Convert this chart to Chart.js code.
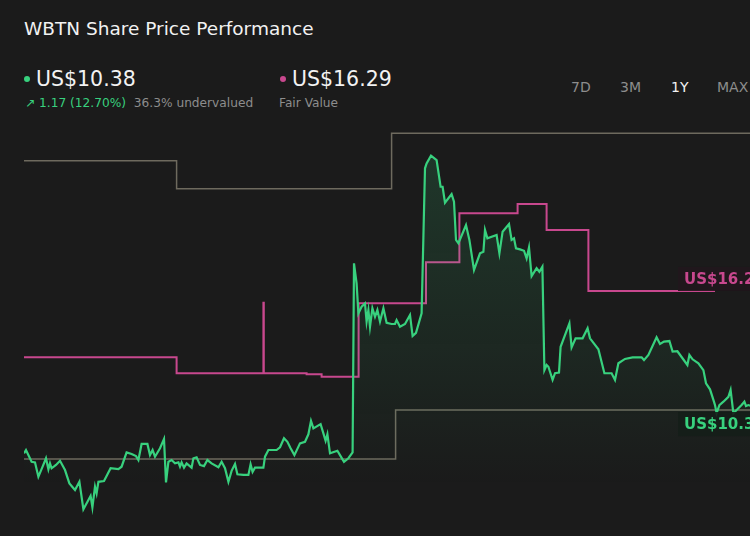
<!DOCTYPE html>
<html>
<head>
<meta charset="utf-8">
<script src="https://cdn.jsdelivr.net/npm/chart.js@4.4.1/dist/chart.umd.min.js"></script>
<style>
    html, body { margin: 0; padding: 0; background: #1b1b1b; }
    body { width: 750px; height: 536px; overflow: hidden; position: relative; font-family: 'DejaVu Sans', sans-serif; }
    .abs { position: absolute; white-space: nowrap; }
    #title { left: 24px; top: 18px; font-size: 18.5px; color: #f2f2f2; }
    .big { top: 67px; font-size: 20.5px; color: #f2f2f2; }
    .dot { position: absolute; width: 6px; height: 6px; border-radius: 3px; top: 76px; }
    .sub { top: 96px; font-size: 12.2px; color: #8d8d8d; }
    .tf { top: 79px; font-size: 14px; color: #8d8d8d; }
    #chartBox { position: absolute; left: 24px; top: 120px; width: 730px; height: 416px; }
</style>
</head>
<body>
<div id="title" class="abs">WBTN Share Price Performance</div>

<div class="dot" style="left:24px;background:#38d17e"></div>
<div class="abs big" style="left:36px">US$10.38</div>
<div class="abs sub" style="left:25px"><span style="color:#38d17e">&#8599; 1.17 (12.70%)</span>&nbsp; 36.3% undervalued</div>

<div class="dot" style="left:280px;background:#c8488e"></div>
<div class="abs big" style="left:292px">US$16.29</div>
<div class="abs sub" style="left:279px">Fair Value</div>

<div class="abs tf" style="left:571px">7D</div>
<div class="abs tf" style="left:620px">3M</div>
<div class="abs tf" style="left:671px;color:#f2f2f2">1Y</div>
<div class="abs tf" style="left:717px">MAX</div>

<div id="chartBox"><canvas id="chart" width="730" height="416"></canvas></div>

<script>
// share price, x = day of the 1Y window
const priceDays = [
    0, 1, 2.6, 3.8, 5.5, 7.2, 9.3, 11, 12.2, 13, 13.8, 16, 18, 20.5, 22.7, 25.5, 27.7, 29.7, 32.2, 33.3,
    34.2, 35.5, 36.3, 37.2, 40, 41.3, 43.3, 47.2, 48.8, 51.3, 53.8, 56, 57.2, 58.8, 61.7, 63, 64.3, 65.5, 68, 70,
    71, 72.2, 73.8, 75.5, 77.2, 78, 78.8, 80, 81.3, 83.8, 84.7, 86.3, 88, 90, 91.7, 93.8, 97.2, 98.8, 100.5, 102.2,
    103.8, 105.5, 106.7, 109.7, 112.2, 113.3, 114.3, 115.5, 119.7, 120.5, 122.2, 126.3, 128, 130, 131.7, 133.3, 135.2, 138, 140.5, 142.2,
    143.5, 144.7, 148.3, 149.7, 150.8, 151.7, 153, 156.7, 158, 160, 162.2, 164.3, 165, 166.3, 167.2, 168.8, 170.5, 171.3, 172.2, 173,
    174.2, 175.5, 176.7, 178, 179.7, 181.3, 183.8, 185.5, 186.3, 188, 190.5, 193, 194.3, 196, 198.8, 200.5, 201.3, 203.5, 206.3, 208.3,
    209.3, 210.5, 213.8, 215, 216, 217.2, 221, 222.7, 225, 228, 229.7, 230.5, 231.7, 236.3, 237.7, 239.3, 242.5, 243.8, 245, 246,
    248, 250, 251.3, 252.5, 253.8, 256.3, 257.7, 259.2, 260.2, 261.3, 262.2, 264.3, 265.5, 267.5, 268.3, 272.7, 273.8, 275.8, 279.3, 281.8,
    283, 287.2, 290.2, 293.8, 295.5, 297.2, 300.5, 304.3, 308.8, 310, 312.2, 316.3, 318, 320, 322.7, 324.3, 326.7, 331.7, 332.7, 334.3,
    337.2, 339.7, 341, 343, 344.7, 345.5, 346.3, 347.7, 349.7, 352.2, 353.3, 354.7, 356.3, 358.8, 360.2, 361, 362.2, 365
];
const priceValues = [
    8.02, 8.19, 7.85, 7.59, 7.56, 6.83, 7.34, 7.77, 7.21, 7.51, 7.26, 7.43, 7.64, 7.17, 6.49, 6.15, 6.57, 5.17, 5.64, 5.85,
    5.27, 6.32, 5.98, 6.57, 6.61, 6.87, 7.26, 7.22, 7.34, 8.07, 7.99, 7.88, 7.68, 8.50, 8.50, 7.93, 8.19, 7.85, 8.28, 8.75,
    6.54, 7.59, 7.68, 7.51, 7.56, 7.34, 7.56, 7.29, 7.51, 7.29, 7.77, 7.82, 7.43, 7.37, 7.68, 7.51, 7.31, 7.59, 7.26, 6.57,
    7.13, 7.48, 6.95, 6.92, 6.92, 7.46, 7.08, 7.29, 7.29, 7.85, 8.19, 8.19, 8.33, 8.79, 8.61, 8.28, 7.93, 8.53, 8.61, 8.99,
    9.67, 9.29, 9.51, 9.04, 8.66, 8.99, 8.02, 8.15, 7.93, 7.59, 7.77, 8.07, 17.70, 16.68, 15.15, 15.49, 15.66, 14.73, 15.32, 14.47,
    15.41, 14.98, 15.32, 14.73, 15.41, 14.67, 14.61, 14.61, 14.81, 14.47, 14.61, 15.07, 14.00, 14.16, 15.15, 22.54, 22.79, 23.18, 22.96, 21.60,
    21.60, 20.79, 21.23, 20.84, 18.89, 18.72, 19.65, 18.89, 17.36, 18.21, 18.29, 19.40, 18.97, 19.14, 18.21, 19.31, 19.70, 18.89, 18.97, 18.46,
    18.41, 18.34, 17.95, 18.51, 17.05, 17.45, 17.27, 17.53, 12.26, 12.52, 12.43, 11.76, 12.10, 12.13, 13.45, 14.64, 13.42, 13.88, 13.88, 14.39,
    13.88, 13.32, 12.10, 12.10, 11.76, 12.61, 12.83, 12.91, 12.91, 12.77, 13.03, 13.93, 13.59, 13.71, 13.74, 13.20, 13.22, 12.52, 13.03, 12.81,
    12.61, 12.26, 11.59, 11.28, 10.74, 10.48, 10.07, 10.48, 10.65, 10.90, 11.25, 10.06, 10.23, 10.48, 10.65, 10.43, 10.48, 10.38
];

// fair value (step line)
const fairDays   = [0, 76.3, 119.7, 119.9, 141.3, 148.8, 167.3, 201, 217.7, 246.8, 261.3, 282.2, 345.5];
const fairValues = [12.91, 12.10, 15.69, 12.10, 12.05, 11.92, 15.66, 17.75, 20.25, 20.72, 19.40, 16.29, 16.29];

// grey band lines
const upperDays   = [0, 76.3, 183.8, 365];
const upperValues = [22.93, 21.50, 24.32, 24.32];
const lowerDays   = [0, 185.8, 365];
const lowerValues = [7.73, 10.23, 10.23];

const lastPrice = 10.38;
const fairValue = 16.29;

function toPoints(days, values) {
    return days.map((d, i) => ({ x: d, y: values[i] }));
}

function priceFill(context) {
    const chart = context.chart;
    const area  = chart.chartArea;
    if (!area) return 'rgba(56,209,126,0.08)';
    const g = chart.ctx.createLinearGradient(0, area.top, 0, area.bottom);
    g.addColorStop(0,    'rgba(56,209,126,0.17)');
    g.addColorStop(0.55, 'rgba(56,209,126,0.07)');
    g.addColorStop(0.88, 'rgba(56,209,126,0)');
    return g;
}

// price tags at the right edge
const tagPlugin = {
    id: 'tags',
    afterDatasetsDraw(chart) {
        const ctx = chart.ctx;
        const y   = chart.scales.y;
        const x0  = chart.chartArea.right - 70;
        const tags = [
            { text: 'US$' + fairValue.toFixed(2), color: '#c8488e', tint: 'rgba(200,72,142,0.07)', cy: y.getPixelForValue(fairValue) - 12 },
            { text: 'US$' + lastPrice.toFixed(2), color: '#38d17e', tint: 'rgba(56,209,126,0.06)', cy: y.getPixelForValue(lastPrice) + 17 }
        ];
        ctx.save();
        ctx.font = 'bold 15px "DejaVu Sans"';
        ctx.textBaseline = 'middle';
        tags.forEach(t => {
            ctx.fillStyle = 'rgba(20,20,20,0.9)';
            ctx.fillRect(x0 - 6, t.cy - 12, 90, 24);
            ctx.fillStyle = t.tint;
            ctx.fillRect(x0 - 6, t.cy - 12, 90, 24);
            ctx.fillStyle = t.color;
            ctx.fillText(t.text, x0, t.cy + 1);
        });
        ctx.restore();
    }
};

new Chart(document.getElementById('chart'), {
    type: 'line',
    data: {
        datasets: [
            {
                data: toPoints(priceDays, priceValues),
                borderColor: '#38d17e',
                borderWidth: 2.2,
                pointRadius: 0,
                tension: 0,
                fill: 'start',
                backgroundColor: priceFill,
                order: 1,
            },
            {
                data: toPoints(fairDays, fairValues),
                borderColor: '#c8488e',
                borderWidth: 2,
                pointRadius: 0,
                stepped: true,
                fill: false,
                order: 2,
            },
            {
                data: toPoints(upperDays, upperValues),
                borderColor: '#6e6a5e',
                borderWidth: 1.5,
                pointRadius: 0,
                stepped: true,
                fill: false,
                order: 3,
            },
            {
                data: toPoints(lowerDays, lowerValues),
                borderColor: '#6e6a5e',
                borderWidth: 1.5,
                pointRadius: 0,
                stepped: true,
                fill: false,
                order: 3,
            }
        ]
    },
    options: {
        responsive: false,
        devicePixelRatio: 1,
        animation: false,
        layout: { padding: 0 },
        scales: {
            x: { type: 'linear', min: 0, max: 365, display: false },
            y: { type: 'linear', min: 3.81, max: 25.0, display: false }
        },
        plugins: { legend: { display: false }, tooltip: { enabled: false } }
    },
    plugins: [tagPlugin]
});
</script>
</body>
</html>
